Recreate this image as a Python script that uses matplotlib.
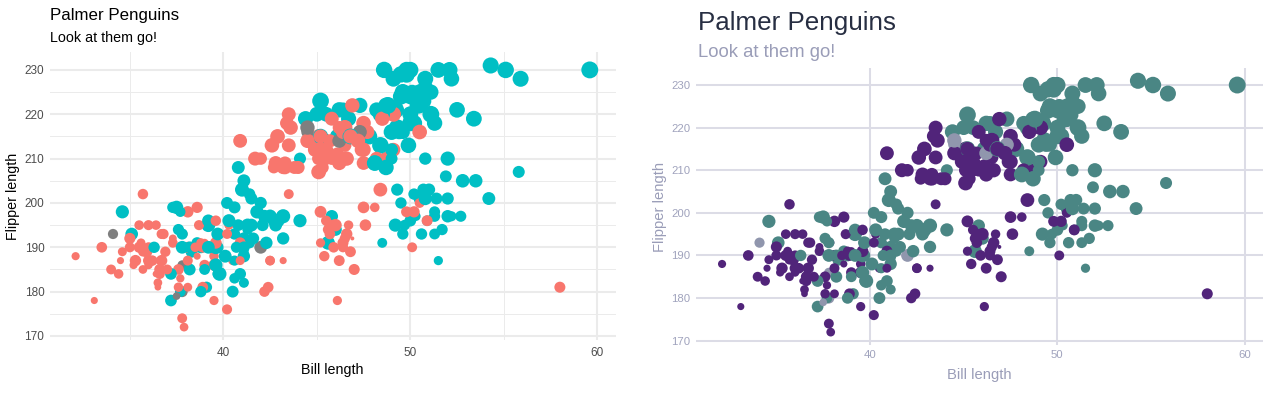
import matplotlib
matplotlib.use("Agg")
import matplotlib.pyplot as plt
import numpy as np

# palmer penguins (rows with missing measurements dropped), in data order
bill_length = [
    39.1, 39.5, 40.3, 36.7, 39.3, 38.9, 39.2, 34.1, 42.0, 37.8,
    37.8, 41.1, 38.6, 34.6, 36.6, 38.7, 42.5, 34.4, 46.0, 37.8,
    37.7, 35.9, 38.2, 38.8, 35.3, 40.6, 40.5, 37.9, 40.5, 39.5,
    37.2, 39.5, 40.9, 36.4, 39.2, 38.8, 42.2, 37.6, 39.8, 36.5,
    40.8, 36.0, 44.1, 37.0, 39.6, 41.1, 37.5, 36.0, 42.3, 39.6,
    40.1, 35.0, 42.0, 34.5, 41.4, 39.0, 40.6, 36.5, 37.6, 35.7,
    41.3, 37.6, 41.1, 36.4, 41.6, 35.5, 41.1, 35.9, 41.8, 33.5,
    39.7, 39.6, 45.8, 35.5, 42.8, 40.9, 37.2, 36.2, 42.1, 34.6,
    42.9, 36.7, 35.1, 37.3, 41.3, 36.3, 36.9, 38.3, 38.9, 35.7,
    41.1, 34.0, 39.6, 36.2, 40.8, 38.1, 40.3, 33.1, 43.2, 35.0,
    41.0, 37.7, 37.8, 37.9, 39.7, 38.6, 38.2, 38.1, 43.2, 38.1,
    45.6, 39.7, 42.2, 39.6, 42.7, 38.6, 37.3, 35.7, 41.1, 36.2,
    37.7, 40.2, 41.4, 35.2, 40.6, 38.8, 41.5, 39.0, 44.1, 38.5,
    43.1, 36.8, 37.5, 38.1, 41.1, 35.6, 40.2, 37.0, 39.7, 40.2,
    40.6, 32.1, 40.7, 37.3, 39.0, 39.2, 36.6, 36.0, 37.8, 36.0,
    41.5,
    46.1, 50.0, 48.7, 50.0, 47.6, 46.5, 45.4, 46.7, 43.3, 46.8,
    40.9, 49.0, 45.5, 48.4, 45.8, 49.3, 42.0, 49.2, 46.2, 48.7,
    50.2, 45.1, 46.5, 46.3, 42.9, 46.1, 44.5, 47.8, 48.2, 50.0,
    47.3, 42.8, 45.1, 59.6, 49.1, 48.4, 42.6, 44.4, 44.0, 48.7,
    42.7, 49.6, 45.3, 49.6, 50.5, 43.6, 45.5, 50.5, 44.9, 45.2,
    46.6, 48.5, 45.1, 50.1, 46.5, 45.0, 43.8, 45.5, 43.2, 50.4,
    45.3, 46.2, 45.7, 54.3, 45.8, 49.8, 46.2, 49.5, 43.5, 50.7,
    47.7, 46.4, 48.2, 46.5, 46.4, 48.6, 47.5, 51.1, 45.2, 45.2,
    49.1, 52.5, 47.4, 50.0, 44.9, 50.8, 43.4, 51.3, 47.5, 52.1,
    47.5, 52.2, 45.5, 49.5, 44.5, 50.8, 49.4, 46.9, 48.4, 51.1,
    48.5, 55.9, 47.2, 49.1, 47.3, 46.8, 41.7, 53.4, 43.3, 48.1,
    50.5, 49.8, 43.5, 51.5, 46.2, 55.1, 44.5, 48.8, 47.2, 46.8,
    50.4, 45.2, 49.9,
    46.5, 50.0, 51.3, 45.4, 52.7, 45.2, 46.1, 51.3, 46.0, 51.3,
    46.6, 51.7, 47.0, 52.0, 45.9, 50.5, 50.3, 58.0, 46.4, 49.2,
    42.4, 48.5, 43.2, 50.6, 46.7, 52.0, 50.5, 49.5, 46.4, 52.8,
    40.9, 54.2, 42.5, 51.0, 49.7, 47.5, 47.6, 52.0, 46.9, 53.5,
    49.0, 46.2, 50.9, 45.5, 50.9, 50.8, 50.1, 49.0, 51.5, 49.8,
    48.1, 51.4, 45.7, 50.7, 42.5, 52.2, 45.2, 49.3, 50.2, 45.6,
    51.9, 46.8, 45.7, 55.8, 43.5, 49.6, 50.8, 50.2,
]

flipper_length = [
    181, 186, 195, 193, 190, 181, 195, 193, 190, 186,
    180, 182, 191, 198, 185, 195, 197, 184, 194, 174,
    180, 189, 185, 180, 187, 183, 187, 172, 180, 178,
    178, 188, 184, 195, 196, 190, 180, 181, 184, 182,
    195, 186, 196, 185, 190, 182, 179, 190, 191, 186,
    188, 190, 200, 187, 191, 186, 193, 181, 194, 185,
    195, 185, 192, 184, 192, 195, 188, 190, 198, 190,
    190, 196, 197, 190, 195, 191, 184, 187, 195, 189,
    196, 187, 193, 191, 194, 190, 189, 189, 190, 202,
    205, 185, 186, 187, 208, 190, 196, 178, 192, 192,
    203, 183, 190, 193, 184, 199, 190, 181, 197, 198,
    191, 193, 197, 191, 196, 188, 199, 189, 189, 187,
    198, 176, 202, 186, 199, 191, 195, 191, 210, 190,
    197, 193, 199, 187, 190, 191, 200, 185, 193, 193,
    187, 188, 190, 192, 185, 190, 184, 195, 193, 187,
    201,
    211, 230, 210, 218, 215, 210, 211, 219, 209, 215,
    214, 216, 214, 213, 210, 217, 210, 221, 209, 222,
    218, 215, 213, 215, 215, 215, 216, 215, 210, 220,
    222, 209, 207, 230, 220, 220, 213, 219, 208, 208,
    208, 225, 210, 216, 222, 217, 210, 225, 213, 215,
    210, 220, 210, 225, 217, 220, 208, 220, 208, 224,
    208, 221, 214, 231, 219, 230, 214, 229, 220, 223,
    216, 221, 221, 217, 216, 230, 209, 220, 215, 223,
    212, 221, 212, 224, 212, 228, 218, 218, 212, 230,
    218, 228, 212, 224, 214, 226, 216, 222, 203, 225,
    219, 228, 215, 228, 216, 215, 210, 219, 208, 209,
    216, 229, 213, 230, 217, 230, 217, 222, 214, 215,
    222, 212, 213,
    192, 196, 193, 188, 197, 198, 178, 197, 195, 198,
    193, 194, 185, 201, 190, 201, 197, 181, 190, 195,
    181, 191, 187, 193, 195, 197, 200, 200, 191, 205,
    187, 201, 187, 203, 195, 199, 195, 210, 192, 205,
    210, 187, 196, 196, 196, 201, 190, 212, 187, 198,
    199, 201, 193, 203, 187, 197, 191, 203, 202, 194,
    206, 189, 195, 207, 202, 193, 210, 198,
]

body_mass = [
    3750, 3800, 3250, 3450, 3650, 3625, 4675, 3475, 4250, 3300,
    3700, 3200, 3800, 4400, 3700, 3450, 4500, 3325, 4200, 3400,
    3600, 3800, 3950, 3800, 3800, 3550, 3200, 3150, 3950, 3250,
    3900, 3300, 3900, 3325, 4150, 3950, 3550, 3300, 4650, 3150,
    3900, 3100, 4400, 3000, 4600, 3425, 2975, 3450, 4150, 3500,
    4300, 3450, 4050, 2900, 3700, 3550, 3800, 2850, 3750, 3150,
    4400, 3600, 4050, 2850, 3950, 3350, 4100, 3050, 4450, 3600,
    3900, 3550, 4150, 3700, 4250, 3700, 3900, 3550, 4000, 3200,
    4700, 3800, 4200, 3350, 3550, 3800, 3500, 3950, 3600, 3550,
    4300, 3400, 4450, 3300, 4300, 3700, 4350, 2900, 4100, 3725,
    4725, 3075, 4250, 2925, 3550, 3750, 3900, 3175, 4775, 3825,
    4600, 3200, 4275, 3900, 4075, 2900, 3775, 3350, 3325, 3150,
    3500, 3450, 3875, 3050, 4000, 3275, 4300, 3050, 4000, 3325,
    3500, 3500, 4475, 3425, 3900, 3175, 3975, 3400, 4250, 3400,
    3475, 3050, 3725, 3000, 3650, 4250, 3475, 3450, 3750, 3700,
    4000,
    4500, 5700, 4450, 5700, 5400, 4550, 4800, 5200, 4400, 5150,
    4650, 5550, 4650, 5850, 4200, 5850, 4150, 6300, 4800, 5350,
    5700, 5000, 4400, 5050, 5000, 5100, 4100, 5650, 4600, 5550,
    5250, 4700, 5050, 6050, 5150, 5400, 4950, 5250, 4350, 5350,
    3950, 5700, 4300, 4750, 5550, 4900, 4200, 5400, 5100, 5300,
    4850, 5300, 4400, 5000, 4900, 5050, 4300, 5000, 4450, 5550,
    4200, 5300, 4400, 5650, 4700, 5700, 4650, 5800, 4700, 5550,
    4750, 5000, 5100, 5200, 4700, 5800, 4600, 6000, 4750, 5950,
    4625, 5450, 4725, 5350, 4750, 5600, 4600, 5300, 4875, 5550,
    4950, 5400, 4750, 5650, 4850, 5200, 4925, 4875, 4625, 5250,
    4850, 5600, 4975, 5500, 4725, 5500, 4700, 5500, 4575, 5500,
    5000, 5950, 4650, 5500, 4375, 5850, 4875, 6000, 4925, 4850,
    5750, 5200, 5400,
    3500, 3900, 3650, 3525, 3725, 3950, 3250, 3750, 4150, 3700,
    3800, 3775, 3700, 4050, 3575, 4050, 3300, 3700, 3450, 4400,
    3600, 3400, 2900, 3800, 3300, 4150, 3400, 3800, 3700, 4550,
    3200, 4300, 3350, 4100, 3600, 3900, 3850, 4800, 2700, 4500,
    3950, 3650, 3550, 3500, 3675, 4450, 3400, 4300, 3250, 3675,
    3325, 3950, 3600, 4050, 3350, 3450, 3250, 4050, 3800, 3525,
    3950, 3650, 3650, 4000, 3400, 3775, 4100, 3775,
]

sex = [
    "M", "F", "F", "F", "M", "F", "M", "NA", "NA", "NA",
    "NA", "F", "M", "M", "F", "F", "M", "F", "M", "F",
    "M", "F", "M", "M", "F", "M", "F", "F", "M", "F",
    "M", "F", "M", "F", "M", "M", "F", "F", "M", "F",
    "M", "F", "M", "F", "M", "M", "NA", "F", "M", "F",
    "M", "F", "M", "F", "M", "F", "M", "F", "M", "F",
    "M", "F", "M", "F", "M", "F", "M", "F", "M", "F",
    "M", "F", "M", "F", "M", "F", "M", "F", "M", "F",
    "M", "F", "M", "F", "M", "M", "F", "M", "F", "F",
    "M", "F", "M", "F", "M", "F", "M", "F", "M", "F",
    "M", "F", "M", "F", "M", "F", "M", "F", "M", "F",
    "M", "F", "M", "F", "M", "F", "M", "F", "M", "F",
    "M", "F", "M", "F", "M", "F", "M", "F", "M", "F",
    "M", "F", "M", "F", "M", "F", "M", "F", "M", "F",
    "M", "F", "M", "F", "M", "M", "F", "F", "M", "F",
    "M",
    "F", "M", "F", "M", "M", "F", "F", "M", "F", "M",
    "F", "M", "F", "M", "F", "M", "F", "M", "F", "M",
    "M", "F", "F", "M", "F", "M", "NA", "M", "F", "M",
    "M", "F", "F", "M", "F", "M", "F", "M", "F", "M",
    "F", "M", "F", "M", "M", "F", "F", "M", "F", "M",
    "F", "M", "F", "M", "F", "M", "F", "M", "F", "M",
    "F", "M", "F", "M", "F", "M", "NA", "M", "F", "M",
    "F", "M", "M", "F", "F", "M", "F", "M", "F", "M",
    "F", "M", "F", "M", "F", "M", "F", "M", "F", "M",
    "F", "M", "F", "M", "F", "M", "M", "F", "F", "M",
    "F", "M", "F", "M", "NA", "M", "F", "M", "F", "M",
    "F", "M", "F", "M", "F", "M", "NA", "M", "F", "F",
    "M", "F", "M",
    "F", "M", "M", "F", "M", "F", "F", "M", "F", "M",
    "F", "M", "F", "M", "F", "M", "M", "F", "F", "M",
    "F", "M", "F", "M", "F", "M", "F", "M", "F", "M",
    "F", "M", "F", "M", "M", "F", "F", "M", "F", "M",
    "M", "F", "M", "F", "F", "M", "F", "M", "M", "F",
    "F", "M", "F", "M", "F", "M", "F", "M", "M", "F",
    "M", "F", "F", "M", "F", "M", "M", "F",
]

x_ticks = [40, 50, 60]
y_ticks = [170, 180, 190, 200, 210, 220, 230]

W, H = 1278, 394
plt.rcParams['font.family'] = ['Liberation Sans', 'DejaVu Sans']


def box(x0, y0, x1, y1):
    return [x0 / W, 1 - y1 / H, (x1 - x0) / W, (y1 - y0) / H]


def point_sizes(mass):
    mass = np.asarray(mass, float)
    r = (mass - mass.min()) / (mass.max() - mass.min())
    size = 1 + 5 * np.sqrt(r)          # ggplot area scale, range 1..6
    d_px = 2.68 * size + 1.3
    return (d_px * 0.72) ** 2


def setup(ax, grid_col, minor):
    xr = max(bill_length) - min(bill_length)
    yr = max(flipper_length) - min(flipper_length)
    ax.set_xlim(min(bill_length) - 0.05 * xr, max(bill_length) + 0.05 * xr)
    ax.set_ylim(min(flipper_length) - 0.05 * yr, max(flipper_length) + 0.05 * yr)
    for s in ax.spines.values():
        s.set_visible(False)
    ax.set_xticks(x_ticks)
    ax.set_yticks(y_ticks)
    ax.grid(True, which='major', color=grid_col, lw=1.45)
    if minor:
        ax.set_xticks([35, 45, 55], minor=True)
        ax.set_yticks([175, 185, 195, 205, 215, 225], minor=True)
        ax.grid(True, which='minor', color=grid_col, lw=0.72)
    ax.tick_params(which='both', length=0)
    ax.set_axisbelow(True)


def main():
    fig = plt.figure(figsize=(12.78, 3.94), dpi=100)
    s = point_sizes(body_mass)

    # left: ggplot2 theme_minimal look
    ax1 = fig.add_axes(box(49.9, 52.4, 615.5, 340.2))
    setup(ax1, '#EBEBEB', True)
    pal1 = {'F': '#F8766D', 'M': '#00BFC4', 'NA': '#7F7F7F'}
    ax1.scatter(bill_length, flipper_length, s=s, c=[pal1[v] for v in sex],
                linewidths=0, zorder=3)
    ax1.tick_params(axis='y', pad=4.0, labelsize=8.5, labelcolor='#4D4D4D')
    ax1.tick_params(axis='x', pad=4.6, labelsize=8.5, labelcolor='#4D4D4D')
    fig.text(50 / W, 1 - 20 / H, 'Palmer Penguins', fontsize=12.2, color='black', va='baseline')
    fig.text(50 / W, 1 - 41.7 / H, 'Look at them go!', fontsize=10.3, color='black', va='baseline')
    fig.text(332.7 / W, 1 - 374 / H, 'Bill length', fontsize=10.3, ha='center', va='baseline')
    fig.text(13 / W, 1 - 196.3 / H, 'Flipper length', fontsize=10.3, rotation=90,
             ha='center', va='center')

    # right: custom purple / teal theme
    ax2 = fig.add_axes(box(696.3, 68.2, 1263, 344.7))
    setup(ax2, '#DCDCE6', False)
    pal2 = {'F': '#51247A', 'M': '#4A8684', 'NA': '#9096AD'}
    ax2.scatter(bill_length, flipper_length, s=s, c=[pal2[v] for v in sex],
                linewidths=0, zorder=3)
    ax2.tick_params(axis='y', pad=4.3, labelsize=8.2, labelcolor='#A0A3BD')
    ax2.tick_params(axis='x', pad=4.0, labelsize=8.2, labelcolor='#A0A3BD')
    fig.text(698 / W, 1 - 30 / H, 'Palmer Penguins', fontsize=18.7, color='#272E42', va='baseline')
    fig.text(698 / W, 1 - 57.3 / H, 'Look at them go!', fontsize=13.3, color='#9A9DB8', va='baseline')
    fig.text(979.7 / W, 1 - 378.7 / H, 'Bill length', fontsize=10.6, color='#9A9DB8',
             ha='center', va='baseline')
    fig.text(660 / W, 1 - 206.5 / H, 'Flipper length', fontsize=10.6, color='#9A9DB8',
             rotation=90, ha='center', va='center')

    fig.savefig('out.png', dpi=100)


main()
